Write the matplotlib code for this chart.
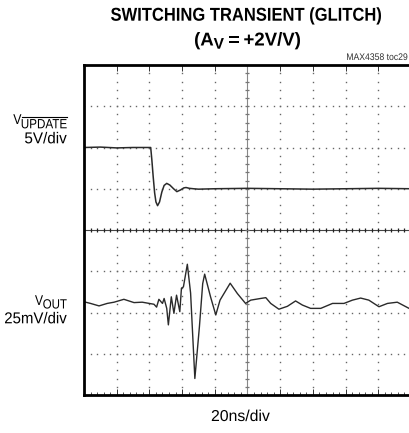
import matplotlib
matplotlib.use('Agg')
import matplotlib.pyplot as plt
from matplotlib.font_manager import FontProperties
from matplotlib.textpath import TextPath
from matplotlib.patches import PathPatch
from matplotlib.transforms import Affine2D
import numpy as np

W, H = 409, 433

# scope settings
ns_per_div = 20.0
v_per_div = 5.0       # VUPDATE
mv_per_div = 25.0     # VOUT
update_offset = 5.0   # division where VUPDATE = 0V
vout_offset = 2.25    # division where VOUT = 0mV

# VUPDATE trace (ns, V)
update_t = [0, 10, 20, 30, 40.8, 41.5, 42.3, 43.2, 44.0, 45.0, 46.2, 47.6, 49.0,
            50.6, 52.5, 54.8, 56.8, 59.0, 61.0, 62.4, 64.5, 67.0, 70, 80, 100,
            120, 140, 160, 180, 200]
update_v = [5.0, 5.05, 4.95, 5.0, 5.0, 3.5, 1.5, -0.5, -1.6, -2.05, -1.6, -0.4, 0.4,
            0.65, 0.45, 0.0, -0.35, -0.15, 0.1, 0.15, 0.05, 0.0, -0.05, 0.0, 0.05,
            0.0, -0.05, 0.0, 0.05, 0.0]

# VOUT trace (ns, mV)
vout_t = [0, 4, 9.2, 14.2, 18.4, 24.4, 30.6, 35.6, 42.8, 44.4, 45.8, 48, 49,
          50.6, 51.6, 53.4, 55, 56.6, 58.6, 59.6, 60.8, 63.2, 65.2, 67.8, 70.6,
          72.6, 73.8, 77.4, 80.6, 83.2, 89.4, 93.8, 98.8, 102, 108, 111.2, 114.2,
          119.2, 124.4, 129.4, 133.6, 138.6, 144.8, 152, 159, 164.2, 169.2, 174.2,
          180.4, 185.6, 191.6, 198.8]
vout_mv = [0.25, -0.75, -2.25, -0.75, 0, 1.75, -0.25, 0, -1.25, -3, 1.75, -0.75, 2.25,
           -3.75, -13.75, 3.25, -6.75, 4.25, -5.75, 8.5, 9.25, 23, 5.5, -46.25, -14.75,
           11.25, 17, 3.25, -7.75, 1.25, 11.5, 5.25, -0.75, 1.25, 2.25, 2.75, -0.75,
           -4.25, -2.5, 0.75, -1.75, -3.75, -3.75, -0.75, -0.75, 1.25, 2.5, 1.25,
           -2.75, -0.75, 0, -3.75]

REG = FontProperties(family='Liberation Sans')
BOLD = FontProperties(family='Liberation Sans', weight='bold')


def narrow_text(fig, pieces, x, base, width=None, sx=0.88, ha='left', prop=REG,
                color='black'):
    # pieces: (text, size px, drop px, overline, gap px) -- drawn as squeezed paths
    # so the lettering looks like the condensed face of the datasheet
    parts = []
    cur = 0.0
    for text, size, drop, over, gap in pieces:
        tp = TextPath((0, 0), text, size=size, prop=prop)
        bb = tp.get_extents()
        cur += gap
        parts.append((tp, cur - bb.x0, drop, over, bb))
        cur += bb.width
    if width is not None:
        sx = width / cur
    total = cur * sx
    if ha == 'right':
        left = x - total
    elif ha == 'center':
        left = x - total / 2
    else:
        left = x
    for tp, off, drop, over, bb in parts:
        tr = Affine2D().translate(off, -drop).scale(sx, 1).translate(left, H - base)
        fig.add_artist(PathPatch(tp, transform=tr, fc=color, ec='none', lw=0))
        if over:
            x0 = left + (off + bb.x0) * sx
            x1 = left + (off + bb.x1) * sx
            yy = H - base - drop + bb.y1 + 1.6
            fig.add_artist(plt.Line2D([x0, x1], [yy, yy], transform=Affine2D(),
                                      color=color, lw=0.8))


fig = plt.figure(figsize=(W/100, H/100), dpi=100)
# right edge of the screen runs past the picture, like the original scan
ax = fig.add_axes([84/W, 38/H, 327/W, 330/H])
ax.set_xlim(0, 10)
ax.set_ylim(0, 8)

# dotted graticule
dots_x = np.arange(0, 10.01, 0.2)
dots_y = np.arange(0, 8.01, 0.2)
for gy in range(1, 8):
    if gy != 4:
        ax.plot(dots_x, np.full_like(dots_x, gy), ls='none', marker='s', ms=1.0,
                color='#666666', mew=0)
for gx in range(1, 10):
    if gx != 5:
        ax.plot(np.full_like(dots_y, gx), dots_y, ls='none', marker='s', ms=1.0,
                color='#666666', mew=0)

# centre crosshair with minor ticks
ax.axhline(4, color='#444444', lw=0.8)
ax.axvline(5, color='#888888', lw=0.8)
ax.plot(dots_x, np.full_like(dots_x, 4), ls='none', marker='|', ms=3.5, color='#222222', mew=0.9)
ax.plot(np.full_like(dots_y, 5), dots_y, ls='none', marker='_', ms=3.5, color='#777777', mew=0.9)

# traces
t_up = np.array(update_t) / ns_per_div
y_up = np.array(update_v) / v_per_div + update_offset
ax.plot(t_up, y_up, color='#2a2a2a', lw=1.1)

t_out = np.array(vout_t) / ns_per_div
y_out = np.array(vout_mv) / mv_per_div + vout_offset
ax.plot(t_out, y_out, color='#2a2a2a', lw=1.0)

# frame
for side in ['left', 'top', 'bottom']:
    ax.spines[side].set_linewidth(2.0)
ax.spines['right'].set_visible(False)
ax.set_xticks(np.arange(0, 11, 1))
ax.set_xticks(dots_x, minor=True)
ax.set_yticks([])
ax.tick_params(axis='x', which='major', direction='in', length=4, width=0.7,
               top=True, labelbottom=False, color='#333333')
ax.tick_params(axis='x', which='minor', direction='in', length=2, width=0.6,
               top=False, color='#333333')

# title
narrow_text(fig, [('SWITCHING TRANSIENT (GLITCH)', 18.6, 0, False, 0)],
            246, 20.7, width=270, ha='center', prop=BOLD)
narrow_text(fig, [('(A', 18.6, 0, False, 0), ('V', 15.5, 3.2, False, 0.5),
                  ('=', 18.6, 0, False, 5.5), ('+2V/V)', 18.6, 0, False, 5.5)],
            247.5, 45.5, width=105, ha='center', prop=BOLD)
narrow_text(fig, [('MAX4358 toc29', 9.6, 0, False, 0)], 347, 60, sx=0.9,
            color='#333333')

# channel labels
narrow_text(fig, [('V', 14.2, 0, False, 0), ('UPDATE', 13.4, 4.3, True, 0.3)],
            66.7, 124, width=53.4, ha='right')
narrow_text(fig, [('5V/div', 15.8, 0, False, 0)], 66.7, 143.3, width=41.7, ha='right')
narrow_text(fig, [('V', 14.2, 0, False, 0), ('OUT', 13.4, 3.5, False, 0.3)],
            66.7, 305, width=31.7, ha='right')
narrow_text(fig, [('25mV/div', 15.8, 0, False, 0)], 66.7, 323.3, width=61.7, ha='right')
narrow_text(fig, [('20ns/div', 15.8, 0, False, 0)], 240.8, 421, width=58, ha='center')

plt.savefig('out.png', dpi=100)
